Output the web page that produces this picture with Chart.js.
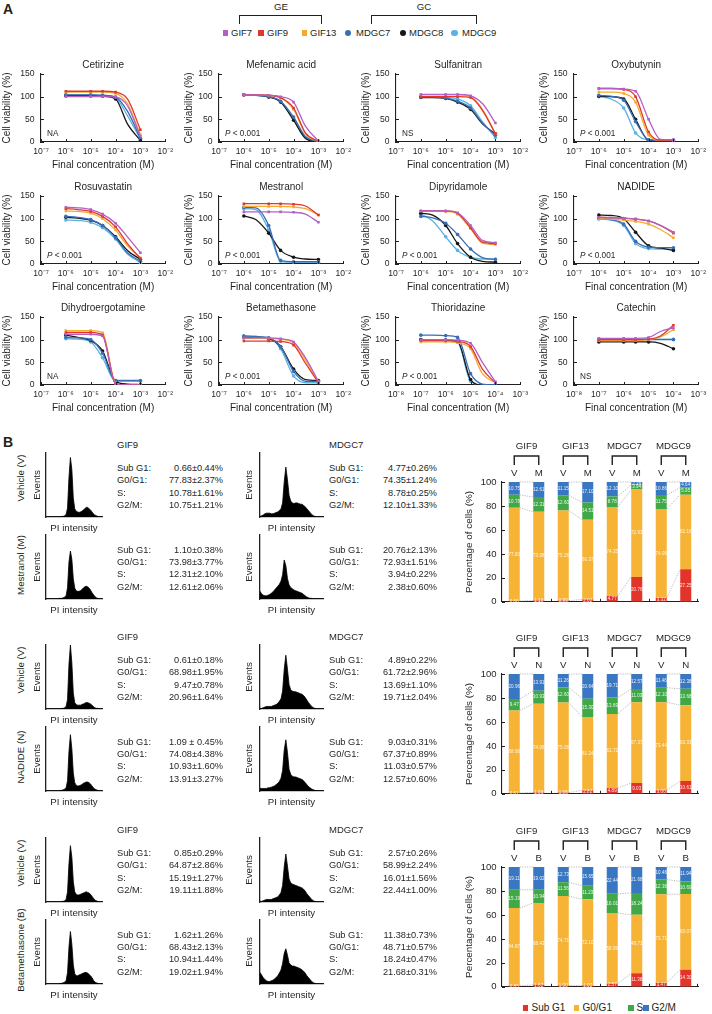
<!DOCTYPE html>
<html>
<head>
<meta charset="utf-8">
<title>Drug response and cell cycle</title>
<script src="https://cdn.jsdelivr.net/npm/chart.js@4.4.1/dist/chart.umd.min.js"></script>
<style>
  body { margin: 0; background: #fff; }
  #page { position: relative; width: 712px; height: 1014px; overflow: hidden;
          font-family: "Liberation Sans", Arial, Helvetica, sans-serif; color: #231f20; }
  #page canvas { position: absolute; }
  .lbl { position: absolute; white-space: nowrap; line-height: 1; }
  .brk { position: absolute; border: 1.3px solid #231f20; border-bottom: none; box-sizing: border-box; }
  .sw { position: absolute; }
</style>
</head>
<body>
<div id="page"></div>
<script>
// ---------- panel A : dose response ----------
const cellLines = ['GIF7', 'GIF9', 'GIF13', 'MDGC7', 'MDGC8', 'MDGC9'];
const lineColors = ['#b55ec5', '#e1372b', '#f5aa2e', '#3a6db5', '#161616', '#5cb3e1'];

const concA = [1e-6, 3e-6, 1e-5, 3e-5, 1e-4, 3e-4, 1e-3];
const concB = [1e-7, 3e-7, 1e-6, 3e-6, 1e-5, 3e-5, 1e-4];
const measured = [0, 2, 3, 4, 6];   // points that carry a marker
const decadesA = [1e-7, 1e-6, 1e-5, 1e-4, 1e-3, 1e-2];
const decadesB = [1e-8, 1e-7, 1e-6, 1e-5, 1e-4, 1e-3];
const tickLabelsA = ['10⁻⁷', '10⁻⁶', '10⁻⁵', '10⁻⁴', '10⁻³', '10⁻²'];
const tickLabelsB = ['10⁻⁸', '10⁻⁷', '10⁻⁶', '10⁻⁵', '10⁻⁴', '10⁻³'];
const viabilityTicks = [0, 50, 100, 150];

const drugNames = ['Cetirizine', 'Mefenamic acid', 'Sulfanitran', 'Oxybutynin',
  'Rosuvastatin', 'Mestranol', 'Dipyridamole', 'NADIDE',
  'Dihydroergotamine', 'Betamethasone', 'Thioridazine', 'Catechin'];
const drugStats = ['NA', 'P < 0.001', 'NS', 'P < 0.001',
  'P < 0.001', 'P < 0.001', 'P < 0.001', 'P < 0.001',
  'NA', 'P < 0.001', 'P < 0.001', 'NS'];

// rows: GIF7, GIF9, GIF13, MDGC7, MDGC8, MDGC9
const cetirizine = [
  [100, 100, 100, 100, 99, 80, 12],
  [112, 112, 112, 112, 110, 95, 27],
  [110, 110, 110, 110, 107, 85, 16],
  [104, 104, 104, 103, 99, 68, 8],
  [102, 102, 102, 101, 95, 40, 3],
  [104, 104, 104, 103, 98, 58, 6]];
const mefenamic = [
  [104, 104, 103, 100, 88, 35, 2],
  [104, 104, 103, 98, 75, 20, 1],
  [104, 104, 103, 98, 72, 18, 1],
  [104, 103, 100, 90, 55, 12, 1],
  [104, 103, 99, 88, 48, 8, 0],
  [104, 103, 100, 90, 52, 10, 1]];
const sulfanitran = [
  [105, 105, 105, 105, 102, 85, 42],
  [100, 100, 100, 100, 98, 70, 18],
  [104, 104, 104, 104, 100, 72, 18],
  [99, 99, 97, 90, 75, 42, 15],
  [98, 98, 96, 88, 72, 40, 18],
  [100, 100, 99, 95, 80, 45, 10]];
const oxybutynin = [
  [118, 118, 117, 112, 50, 6, 5],
  [118, 118, 116, 100, 22, 4, 4],
  [110, 110, 107, 88, 15, 4, 4],
  [103, 101, 92, 45, 5, 3, 3],
  [101, 100, 95, 50, 4, 3, 3],
  [100, 95, 75, 20, 5, 5, 5]];
const rosuvastatin = [
  [125, 124, 120, 110, 90, 60, 25],
  [122, 120, 116, 105, 82, 45, 12],
  [117, 116, 112, 100, 75, 40, 14],
  [105, 103, 98, 85, 58, 25, 6],
  [103, 101, 97, 85, 60, 30, 10],
  [97, 96, 92, 80, 55, 22, 3]];
const mestranol = [
  [115, 115, 115, 115, 114, 110, 92],
  [133, 133, 133, 133, 132, 128, 108],
  [127, 127, 127, 127, 126, 122, 108],
  [125, 124, 85, 8, 5, 5, 5],
  [106, 98, 68, 30, 15, 11, 10],
  [122, 120, 75, 6, 4, 4, 4]];
const dipyridamole = [
  [117, 117, 117, 113, 85, 52, 47],
  [117, 117, 117, 112, 80, 48, 45],
  [117, 117, 116, 110, 78, 46, 43],
  [105, 102, 90, 65, 33, 14, 10],
  [112, 108, 85, 45, 15, 6, 4],
  [110, 95, 60, 30, 15, 11, 11]];
const nadide = [
  [103, 102, 101, 99, 95, 85, 70],
  [103, 102, 101, 99, 95, 85, 68],
  [100, 99, 97, 94, 88, 76, 58],
  [100, 98, 88, 50, 37, 36, 36],
  [108, 107, 100, 70, 40, 35, 30],
  [100, 97, 85, 45, 34, 33, 33]];
const dihydroergotamine = [
  [112, 112, 112, 108, 3, 0, 0],
  [116, 116, 116, 110, 3, 0, 0],
  [120, 120, 120, 115, 5, 0, 0],
  [105, 104, 100, 70, 10, 10, 10],
  [110, 105, 98, 75, 8, 2, 1],
  [102, 101, 95, 60, 8, 8, 8]];
const betamethasone = [
  [104, 104, 104, 102, 95, 60, 8],
  [97, 97, 97, 96, 88, 48, 5],
  [103, 103, 103, 101, 93, 55, 6],
  [108, 107, 104, 85, 30, 8, 8],
  [105, 104, 102, 85, 35, 12, 10],
  [108, 107, 104, 80, 20, 5, 5]];
const thioridazine = [
  [100, 100, 100, 99, 92, 50, 7],
  [98, 98, 98, 96, 85, 35, 5],
  [95, 95, 95, 93, 80, 25, 5],
  [110, 110, 109, 105, 25, 2, 0],
  [100, 100, 99, 96, 12, 0, 0],
  [100, 100, 99, 95, 8, 0, 0]];
const catechin = [
  [103, 103, 103, 103, 105, 118, 126],
  [100, 100, 100, 100, 101, 108, 132],
  [98, 98, 98, 98, 100, 106, 122],
  [100, 100, 100, 100, 100, 100, 100],
  [95, 95, 95, 95, 95, 92, 80],
  [101, 101, 101, 101, 101, 101, 101]];

const drugCurves = [cetirizine, mefenamic, sulfanitran, oxybutynin,
  rosuvastatin, mestranol, dipyridamole, nadide,
  dihydroergotamine, betamethasone, thioridazine, catechin];

// ---------- panel B : cell cycle ----------
const groups = ['GIF9', 'GIF13', 'MDGC7', 'MDGC9'];
const phases = ['Sub G1', 'G0/G1', 'S', 'G2/M'];
const phaseColors = ['#e2342a', '#f6b335', '#40a847', '#3a77c2'];
const percentTicks = [0, 20, 40, 60, 80, 100];
const statNames = ['Sub G1:', 'G0/G1:', 'S:', 'G2/M:'];

// bars: GIF9 V, GIF9 T, GIF13 V, GIF13 T, MDGC7 V, MDGC7 T, MDGC9 V, MDGC9 T
const mSub = [0.66, 1.10, 0.99, 2.02, 4.77, 20.76, 3.32, 27.25];
const mG0 = [77.83, 73.98, 75.26, 66.37, 74.35, 72.93, 74.06, 62.16];
const mS = [10.78, 12.31, 12.60, 14.51, 8.78, 3.94, 11.75, 5.95];
const mG2 = [10.75, 12.61, 11.15, 17.10, 12.10, 2.38, 10.86, 4.64];

const nSub = [0.61, 1.09, 1.06, 2.82, 4.89, 9.03, 3.00, 10.61];
const nG0 = [68.98, 74.08, 75.08, 61.24, 61.72, 67.37, 73.44, 63.33];
const nS = [9.47, 10.93, 12.60, 15.30, 13.69, 11.03, 12.10, 13.68];
const nG2 = [20.96, 13.91, 11.26, 20.64, 19.71, 12.57, 11.46, 12.38];

const bSub = [0.85, 1.62, 1.00, 1.02, 2.57, 11.38, 3.47, 14.30];
const bG0 = [64.87, 68.43, 74.71, 72.10, 58.99, 48.71, 73.71, 63.07];
const bS = [15.19, 10.94, 11.56, 11.23, 16.01, 18.24, 12.36, 10.69];
const bG2 = [19.11, 19.02, 12.73, 15.65, 22.44, 21.68, 10.46, 11.94];

// flow cytometry summaries
const mStatGif9V = ['0.66±0.44%', '77.83±2.37%', '10.78±1.61%', '10.75±1.21%'];
const mStatGif9T = ['1.10±0.38%', '73.98±3.77%', '12.31±2.10%', '12.61±2.06%'];
const mStatMdgc7V = ['4.77±0.26%', '74.35±1.24%', '8.78±0.25%', '12.10±1.33%'];
const mStatMdgc7T = ['20.76±2.13%', '72.93±1.51%', '3.94±0.22%', '2.38±0.60%'];
const nStatGif9V = ['0.61±0.18%', '68.98±1.95%', '9.47±0.78%', '20.96±1.64%'];
const nStatGif9T = ['1.09 ± 0.45%', '74.08±4.38%', '10.93±1.60%', '13.91±3.27%'];
const nStatMdgc7V = ['4.89±0.22%', '61.72±2.96%', '13.69±1.10%', '19.71±2.04%'];
const nStatMdgc7T = ['9.03±0.31%', '67.37±0.89%', '11.03±0.57%', '12.57±0.60%'];
const bStatGif9V = ['0.85±0.29%', '64.87±2.86%', '15.19±1.27%', '19.11±1.88%'];
const bStatGif9T = ['1.62±1.26%', '68.43±2.13%', '10.94±1.44%', '19.02±1.94%'];
const bStatMdgc7V = ['2.57±0.26%', '58.99±2.24%', '16.01±1.56%', '22.44±1.00%'];
const bStatMdgc7T = ['11.38±0.73%', '48.71±0.57%', '18.24±0.47%', '21.68±0.31%'];

// DNA content histograms (relative events per PI bin)
const mHistGif9V = [0,0,0,0,0,0,0,0,0,0, 0,1,1,2,4,14,62,93,74,30, 13,9,8,7,8,9,11,13,15,15, 13,11,8,5,3,2,1,0,0,0];
const mHistGif9T = [0,0,0,0,0,0,0,0,0,1, 1,1,2,3,5,18,58,75,62,32, 17,13,12,12,13,15,17,19,20,19, 17,14,10,7,4,2,1,0,0,0];
const mHistMdgc7V = [1,2,3,5,6,6,6,5,5,6, 7,8,10,13,22,55,78,58,34,25, 22,21,22,22,21,20,20,18,16,13, 10,7,4,2,1,0,0,0,0,0];
const mHistMdgc7T = [12,8,6,5,5,6,7,9,11,14, 17,20,23,28,38,61,52,32,22,18, 16,14,13,12,11,10,9,7,5,3, 2,1,1,0,0,0,0,0,0,0];
const nHistGif9V = [0,0,0,0,0,0,0,0,0,0, 0,1,1,2,4,15,70,100,72,25, 10,7,6,6,6,7,8,9,10,10, 9,8,6,4,2,1,1,0,0,0];
const nHistGif9T = [0,0,0,0,0,0,0,0,0,0, 1,1,2,3,5,16,62,88,66,28, 13,9,8,8,9,10,12,13,14,14, 13,11,8,5,3,2,1,0,0,0];
const nHistMdgc7V = [1,1,2,3,4,4,4,4,5,6, 7,9,12,16,28,62,84,62,38,30, 28,27,27,26,25,24,23,21,18,14, 10,7,4,2,1,0,0,0,0,0];
const nHistMdgc7T = [4,4,4,4,4,5,5,6,7,8, 10,12,15,20,32,64,80,60,34,26, 23,22,22,21,20,19,18,16,13,10, 7,5,3,2,1,0,0,0,0,0];
const bHistGif9V = [0,0,0,0,0,0,0,0,0,0, 0,1,1,2,4,16,60,88,70,32, 16,12,11,11,12,13,14,15,16,15, 14,12,9,6,3,2,1,0,0,0];
const bHistGif9T = [0,0,0,0,0,0,0,0,0,0, 1,1,2,3,5,18,58,82,62,30, 16,13,13,14,15,16,17,18,18,17, 15,13,10,6,3,2,1,0,0,0];
const bHistMdgc7V = [1,1,2,3,4,4,4,4,5,6, 7,8,11,15,26,55,75,56,36,30, 28,27,26,25,24,23,22,20,17,13, 10,7,4,2,1,0,0,0,0,0];
const bHistMdgc7T = [18,14,10,7,5,4,4,5,6,8, 10,13,17,22,32,48,55,45,33,30, 28,28,27,26,25,24,22,20,17,13, 10,7,4,2,1,0,0,0,0,0];

// ---------- helpers ----------
const FONT = '"Liberation Sans", Arial, sans-serif';
const INK = '#231f20';
Chart.defaults.font.family = FONT;
Chart.defaults.font.size = 8.5;
Chart.defaults.color = INK;
Chart.defaults.animation = false;
Chart.defaults.responsive = false;
Chart.defaults.events = [];
Chart.defaults.plugins.legend.display = false;
Chart.defaults.plugins.tooltip.enabled = false;

const page = document.getElementById('page');

function addCanvas(left, top, w, h) {
  const c = document.createElement('canvas');
  c.width = w; c.height = h;
  c.style.left = left + 'px'; c.style.top = top + 'px';
  c.style.width = w + 'px'; c.style.height = h + 'px';
  page.appendChild(c);
  return c;
}

function label(text, x, y, opt = {}) {
  const d = document.createElement('div');
  d.className = 'lbl';
  d.textContent = text;
  d.style.left = x + 'px';
  d.style.top = y + 'px';
  d.style.fontSize = (opt.size || 9.5) + 'px';
  if (opt.bold) d.style.fontWeight = 'bold';
  const ax = opt.align === 'left' ? '0' : opt.align === 'right' ? '-100%' : '-50%';
  d.style.transform = `translate(${ax},-50%)` + (opt.rotate ? ' rotate(-90deg)' : '');
  page.appendChild(d);
}

function bracket(x1, x2, top, h) {
  const d = document.createElement('div');
  d.className = 'brk';
  d.style.left = x1 + 'px'; d.style.top = top + 'px';
  d.style.width = (x2 - x1) + 'px'; d.style.height = h + 'px';
  page.appendChild(d);
}

function swatch(cx, cy, size, color, round) {
  const d = document.createElement('div');
  d.className = 'sw';
  d.style.left = (cx - size / 2) + 'px'; d.style.top = (cy - size / 2) + 'px';
  d.style.width = size + 'px'; d.style.height = size + 'px';
  d.style.background = color;
  if (round) d.style.borderRadius = '50%';
  page.appendChild(d);
}

const plainAxis = { display: false, drawTicks: false };
const inkBorder = { color: INK, width: 1.1 };

// small ticks pointing into the plot
const innerTicks = {
  id: 'innerTicks',
  afterDraw(chart) {
    const { ctx, chartArea: a, scales: { x, y } } = chart;
    ctx.save();
    ctx.strokeStyle = INK; ctx.lineWidth = 1;
    ctx.beginPath();
    y.ticks.forEach(t => {
      const p = Math.round(y.getPixelForValue(t.value)) + 0.5;
      ctx.moveTo(a.left, p); ctx.lineTo(a.left + 3, p);
    });
    x.ticks.forEach(t => {
      const p = Math.round(x.getPixelForValue(t.value)) + 0.5;
      ctx.moveTo(p, a.bottom); ctx.lineTo(p, a.bottom - 3);
    });
    ctx.stroke();
    ctx.restore();
  }
};

const doseText = {
  id: 'doseText',
  afterDraw(chart, args, o) {
    const { ctx, chartArea: a } = chart;
    ctx.save();
    ctx.fillStyle = INK;
    ctx.textBaseline = 'middle';
    ctx.textAlign = 'center';
    ctx.font = '10px ' + FONT;
    ctx.fillText(o.title, (a.left + a.right) / 2, a.top - 9);
    ctx.textAlign = 'left';
    let x = a.left + 6;
    const y = a.bottom - 8;
    let rest = o.note;
    if (rest.startsWith('P')) {
      ctx.font = 'italic 8.2px ' + FONT;
      ctx.fillText('P', x, y);
      x += ctx.measureText('P').width;
      rest = rest.slice(1);
    }
    ctx.font = '8.2px ' + FONT;
    ctx.fillText(rest, x, y);
    ctx.restore();
  }
};

// ---------- panel A charts ----------
const colX = [41, 219, 396, 574];
const rowTop = [74, 196, 317];

drugNames.forEach((name, k) => {
  const col = k % 4, row = Math.floor(k / 4);
  const late = k >= 10;
  const conc = late ? concB : concA;
  const decades = late ? decadesB : decadesA;
  const tickText = late ? tickLabelsB : tickLabelsA;
  const cv = addCanvas(colX[col] - 40, rowTop[row] - 18, 176, 116);
  new Chart(cv, {
    type: 'line',
    data: {
      datasets: drugCurves[k].map((vals, i) => ({
        label: cellLines[i],
        data: conc.map((c, j) => ({ x: c, y: vals[j] })),
        borderColor: lineColors[i],
        backgroundColor: lineColors[i],
        borderWidth: 1.3,
        cubicInterpolationMode: 'monotone',
        pointStyle: i < 3 ? 'rect' : 'circle',
        pointRadius: c => measured.includes(c.dataIndex) ? 1.8 : 0,
        pointBorderWidth: 0
      }))
    },
    options: {
      layout: { padding: { top: 18, right: 10, left: 0, bottom: 0 } },
      plugins: { doseText: { title: name, note: drugStats[k] } },
      scales: {
        x: {
          type: 'logarithmic', min: decades[0], max: decades[decades.length - 1],
          afterBuildTicks: s => { s.ticks = decades.map(v => ({ value: v })); },
          afterFit: s => { s.height = 30; },
          grid: plainAxis, border: inkBorder,
          ticks: { autoSkip: false, maxRotation: 0, padding: 4, font: { size: 8.6 }, callback: (v, i) => tickText[i] },
          title: { display: true, text: 'Final concentration (M)', font: { size: 10 }, padding: { top: 0, bottom: 1 } }
        },
        y: {
          min: 0, max: 150,
          afterBuildTicks: s => { s.ticks = viabilityTicks.map(v => ({ value: v })); },
          afterFit: s => { s.width = 40; },
          grid: plainAxis, border: inkBorder,
          ticks: { padding: 6.5, font: { size: 8.6 } },
          title: { display: true, text: 'Cell viability (%)', font: { size: 10 }, padding: { top: col === 0 ? 0 : 4, bottom: 0 } }
        }
      }
    },
    plugins: [doseText, innerTicks]
  });
});

// panel A legend
label('A', 8, 9, { size: 14, bold: true });
bracket(239, 322, 15, 9);
bracket(371, 477, 15, 9);
label('GE', 281, 7, { size: 9.7 });
label('GC', 424, 7, { size: 9.7 });
const legendSwatchX = [225.5, 261, 304.5, 348, 403, 454.5];
const legendTextX = [231, 267, 310, 356, 409, 462];
cellLines.forEach((n, i) => {
  swatch(legendSwatchX[i], 33, i < 3 ? 5.6 : 6.2, lineColors[i], i >= 3);
  label(n, legendTextX[i], 33, { size: 9.5, align: 'left' });
});

// ---------- panel B ----------
label('B', 8, 442, { size: 14, bold: true });

function histChart(axisX, plotTop, plotW, bins, eventsPad) {
  const cv = addCanvas(axisX - 16, plotTop - 2, 16 + plotW + 2, 2 + 64 + 18);
  new Chart(cv, {
    type: 'line',
    data: {
      labels: bins.map((_, i) => i),
      datasets: [{
        data: bins, fill: 'origin', tension: 0,
        backgroundColor: '#000', borderColor: '#000', borderWidth: 0.8, pointRadius: 0
      }]
    },
    options: {
      layout: { padding: { top: 2, right: 2, left: 0, bottom: 0 } },
      scales: {
        x: {
          offset: false, grid: plainAxis, ticks: { display: false }, border: { color: INK, width: 1.3 },
          afterFit: s => { s.height = 18; },
          title: { display: true, text: 'PI intensity', font: { size: 9.7 }, padding: { top: 0, bottom: 1.2 } }
        },
        y: {
          min: 0, max: 100, grid: plainAxis, ticks: { display: false }, border: { color: INK, width: 1.3 },
          afterFit: s => { s.width = 16; },
          title: { display: true, text: 'Events', font: { size: 9.7 }, padding: { top: eventsPad, bottom: 0 } }
        }
      }
    }
  });
}

function statBlock(x, xr, y, values) {
  values.forEach((v, i) => {
    label(statNames[i], x, y + i * 12.4, { size: 9.3, align: 'left' });
    label(v, xr, y + i * 12.4, { size: 9.2, align: 'right' });
  });
}

function section(L, treatment, hists, stats) {
  label('GIF9', 117, L, { size: 9.5, align: 'left' });
  label('MDGC7', 329, L, { size: 9.5, align: 'left' });
  label('Vehicle (V)', 21, L + 33, { size: 9.7, rotate: true });
  label(treatment, 21, L + 120, { size: 9.7, rotate: true });
  histChart(46, L + 8, 56, hists[0], 1.7);
  histChart(46, L + 90, 56, hists[1], 1.7);
  histChart(260, L + 8, 63, hists[2], 0);
  histChart(260, L + 90, 63, hists[3], 0);
  statBlock(117, 223, L + 24, stats[0]);
  statBlock(117, 223, L + 105.5, stats[1]);
  statBlock(329, 437, L + 24, stats[2]);
  statBlock(329, 437, L + 105.5, stats[3]);
}

section(445, 'Mestranol (M)', [mHistGif9V, mHistGif9T, mHistMdgc7V, mHistMdgc7T],
  [mStatGif9V, mStatGif9T, mStatMdgc7V, mStatMdgc7T]);
section(637, 'NADIDE (N)', [nHistGif9V, nHistGif9T, nHistMdgc7V, nHistMdgc7T],
  [nStatGif9V, nStatGif9T, nStatMdgc7V, nStatMdgc7T]);
section(830, 'Betamethasone (B)', [bHistGif9V, bHistGif9T, bHistMdgc7V, bHistMdgc7T],
  [bStatGif9V, bStatGif9T, bStatMdgc7V, bStatMdgc7T]);

// stacked bar decorations: headers, brackets, connectors, values
const cycleDecor = {
  id: 'cycleDecor',
  afterDatasetsDraw(chart, args, o) {
    const { ctx, chartArea: a, scales: { x, y } } = chart;
    const metas = chart.data.datasets.map((d, i) => chart.getDatasetMeta(i));
    ctx.save();
    // segment values
    ctx.fillStyle = 'rgba(255,255,255,0.9)';
    ctx.font = '4.5px ' + FONT;
    ctx.textAlign = 'center'; ctx.textBaseline = 'middle';
    metas.forEach((m, k) => m.data.forEach((bar, i) => {
      ctx.fillText(chart.data.datasets[k].data[i].toFixed(2), bar.x, (bar.y + bar.base) / 2);
    }));
    // dotted connectors between vehicle and treated bars
    ctx.strokeStyle = '#8c8c8c'; ctx.lineWidth = 0.6; ctx.setLineDash([1.2, 1.2]);
    groups.forEach((g, gi) => {
      metas.forEach(m => {
        const p = m.data[2 * gi], q = m.data[2 * gi + 1];
        ctx.beginPath();
        ctx.moveTo(p.x + p.width / 2, p.y);
        ctx.lineTo(q.x - q.width / 2, q.y);
        ctx.stroke();
      });
    });
    ctx.setLineDash([]);
    // axis ticks
    ctx.strokeStyle = INK; ctx.lineWidth = 1;
    ctx.beginPath();
    y.ticks.forEach(t => {
      const p = Math.round(y.getPixelForValue(t.value)) + 0.5;
      ctx.moveTo(a.left, p); ctx.lineTo(a.left + 3, p);
    });
    groups.forEach((g, gi) => {
      const xb = gi < groups.length - 1
        ? Math.round((x.getPixelForValue(2 * gi + 1) + x.getPixelForValue(2 * gi + 2)) / 2) + 0.5
        : a.right - 0.5;
      ctx.moveTo(xb, a.bottom); ctx.lineTo(xb, a.bottom - 3);
    });
    ctx.stroke();
    // group headers
    ctx.fillStyle = INK;
    ctx.font = '9.7px ' + FONT;
    ctx.lineWidth = 1.4;
    groups.forEach((g, gi) => {
      const x1 = x.getPixelForValue(2 * gi), x2 = x.getPixelForValue(2 * gi + 1);
      ctx.fillText(g, (x1 + x2) / 2, a.top - 36);
      ctx.beginPath();
      ctx.moveTo(x1, a.top - 17); ctx.lineTo(x1, a.top - 26);
      ctx.lineTo(x2, a.top - 26); ctx.lineTo(x2, a.top - 17);
      ctx.stroke();
      ctx.fillText(o.pairs[0], x1, a.top - 9);
      ctx.fillText(o.pairs[1], x2, a.top - 9);
    });
    ctx.restore();
  }
};

function cycleChart(plotTop, sub, g0, s, g2, pairs) {
  const cv = addCanvas(455, plotTop - 40, 250, 171);
  new Chart(cv, {
    type: 'bar',
    data: {
      labels: groups.flatMap(g => pairs.map(p => g + ' ' + p)),
      datasets: [sub, g0, s, g2].map((vals, k) => ({
        label: phases[k], data: vals, backgroundColor: phaseColors[k],
        barPercentage: 0.45, categoryPercentage: 1, borderWidth: 0
      }))
    },
    options: {
      layout: { padding: { top: 40, right: 7, left: 0, bottom: 0 } },
      plugins: { cycleDecor: { pairs } },
      scales: {
        x: {
          stacked: true, grid: plainAxis, ticks: { display: false }, border: inkBorder,
          afterFit: sc => { sc.height = 6; }
        },
        y: {
          stacked: true, min: 0, max: 100,
          afterBuildTicks: sc => { sc.ticks = percentTicks.map(v => ({ value: v })); },
          afterFit: sc => { sc.width = 47; },
          grid: plainAxis, border: inkBorder,
          ticks: { padding: 5.5, font: { size: 9.5 } },
          title: { display: true, text: 'Percentage of cells (%)', font: { size: 9.9 }, padding: { top: 8, bottom: 0 } }
        }
      }
    },
    plugins: [cycleDecor]
  });
}

cycleChart(482, mSub, mG0, mS, mG2, ['V', 'M']);
cycleChart(674, nSub, nG0, nS, nG2, ['V', 'N']);
cycleChart(867, bSub, bG0, bS, bG2, ['V', 'B']);

// phase legend
const phaseSwatchX = [525.5, 576.7, 630.8, 646];
const phaseTextX = [531.5, 582.5, 636.5, 651.5];
phases.forEach((p, i) => {
  swatch(phaseSwatchX[i], 1008, 5.6, phaseColors[i], false);
  label(p, phaseTextX[i], 1008, { size: 10, align: 'left' });
});
</script>
</body>
</html>
